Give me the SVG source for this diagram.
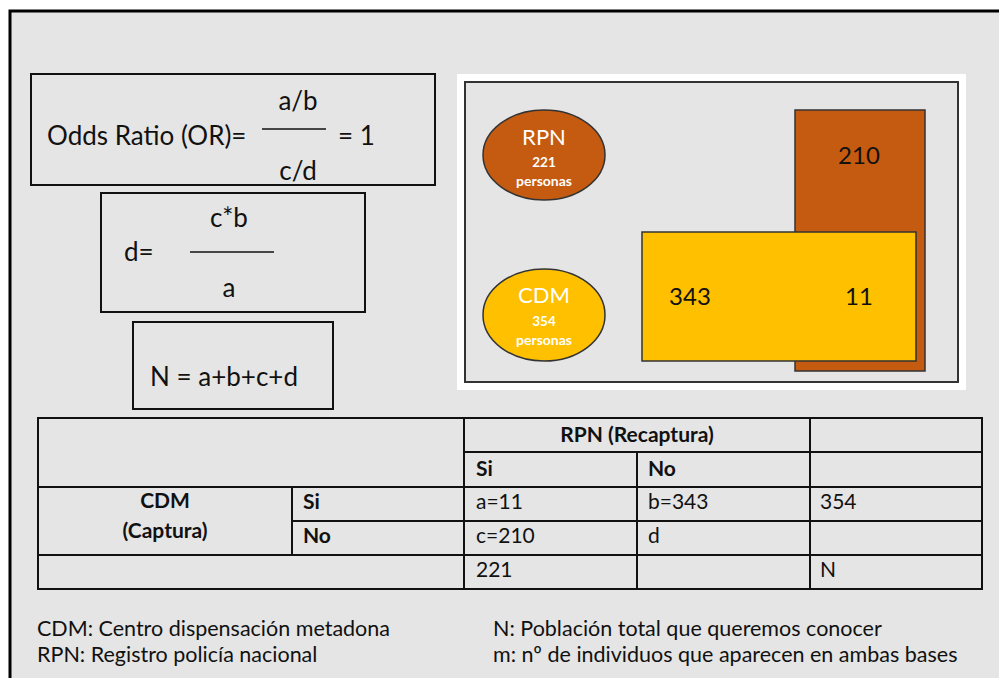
<svg xmlns="http://www.w3.org/2000/svg" width="999" height="678" viewBox="0 0 999 678">
<style>
text{font-family:Lato,"Liberation Sans",sans-serif;fill:#111}
.box{fill:none;stroke:#111;stroke-width:2}
.f{font-size:26px}
.t{font-size:21px}
.l{font-size:21.5px}
.b{font-weight:bold}
.m{text-anchor:middle}
.w{fill:#fff}
.grid{stroke:#111;stroke-width:2;fill:none}
</style>
<rect x="0" y="0" width="999" height="678" fill="#fff"/>
<rect x="10" y="11" width="989" height="667" fill="#e5e5e5"/>
<path d="M10 678 V11 H999" fill="none" stroke="#000" stroke-width="3"/>

<g id="or-box">
<rect class="box" x="31" y="74" width="404" height="111"/>
<text class="f" x="47" y="145">Odds Ratio (OR)=</text>
<text class="f m" x="298" y="110">a/b</text>
<line x1="262" y1="129" x2="326" y2="129" stroke="#111" stroke-width="1.5"/>
<text class="f" x="338" y="145">= 1</text>
<text class="f m" x="298" y="180">c/d</text>
</g>

<g id="d-box">
<rect class="box" x="101" y="193" width="264" height="119"/>
<text class="f m" x="229" y="227">c*b</text>
<line x1="190" y1="252" x2="274" y2="252" stroke="#111" stroke-width="1.5"/>
<text class="f" x="124" y="261">d=</text>
<text class="f m" x="229" y="297">a</text>
</g>

<g id="n-box">
<rect class="box" x="133" y="322" width="200" height="87"/>
<text class="f" x="150" y="386">N = a+b+c+d</text>
</g>

<g id="venn">
<rect x="457" y="74" width="509" height="316" fill="#fff"/>
<rect x="465" y="82" width="493" height="300" fill="#e5e5e5" stroke="#333" stroke-width="2"/>
<g id="rpn-rect">
<rect x="795" y="110" width="130" height="261" fill="#c55a11" stroke="#333" stroke-width="1.5"/>
<text x="859" y="164" class="m" font-size="24">210</text>
</g>
<g id="cdm-rect">
<rect x="642" y="232" width="274" height="129" fill="#ffc000" stroke="#333" stroke-width="1.5"/>
<text x="690" y="305" class="m" font-size="24">343</text>
<text x="859" y="305" class="m" font-size="24">11</text>
</g>
<g id="rpn-ellipse">
<ellipse cx="544" cy="155" rx="61" ry="45" fill="#c55a11" stroke="#333" stroke-width="1.5"/>
<text x="544" y="145" class="m w" font-size="22">RPN</text>
<text x="544" y="167" class="m w b" font-size="13.5">221</text>
<text x="544" y="186" class="m w b" font-size="14">personas</text>
</g>
<g id="cdm-ellipse">
<ellipse cx="544" cy="315" rx="61" ry="46" fill="#ffc000" stroke="#333" stroke-width="1.5"/>
<text x="544" y="303" class="m w" font-size="22">CDM</text>
<text x="544" y="326" class="m w b" font-size="13.5">354</text>
<text x="544" y="345" class="m w b" font-size="14">personas</text>
</g>
</g>

<g id="table">
<rect class="grid" x="38" y="418" width="944" height="171"/>
<path class="grid" d="M464 418 V589 M810 418 V589 M637 452 V589 M292 487 V555 M464 452 H982 M38 487 H982 M292 521 H982 M38 555 H982"/>
<text class="t b m" x="637" y="442">RPN (Recaptura)</text>
<text class="t b" x="476" y="476">Si</text>
<text class="t b" x="648" y="476">No</text>
<text class="t b m" x="165" y="508">CDM</text>
<text class="t b m" x="165" y="538">(Captura)</text>
<text class="t b" x="303" y="509">Si</text>
<text class="t b" x="303" y="543">No</text>
<text class="t" x="476" y="509">a=11</text>
<text class="t" x="648" y="509">b=343</text>
<text class="t" x="820" y="509">354</text>
<text class="t" x="476" y="543">c=210</text>
<text class="t" x="648" y="543">d</text>
<text class="t" x="476" y="577">221</text>
<text class="t" x="820" y="577">N</text>
</g>

<g id="legend">
<text class="l" x="37" y="636">CDM: Centro dispensación metadona</text>
<text class="l" x="37" y="662">RPN: Registro policía nacional</text>
<text class="l" x="493" y="636">N: Población total que queremos conocer</text>
<text class="l" x="493" y="662">m: nº de individuos que aparecen en ambas bases</text>
</g>
</svg>
